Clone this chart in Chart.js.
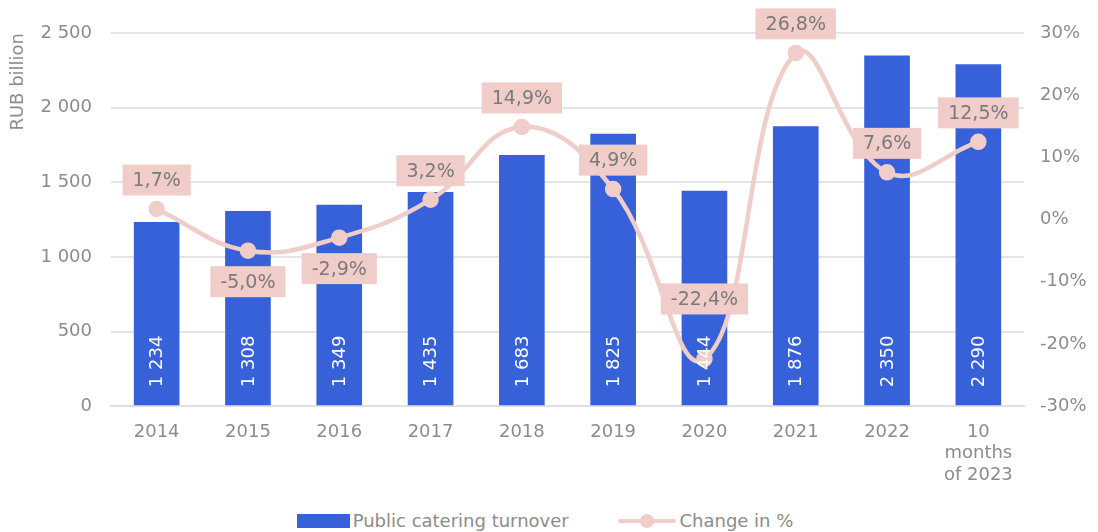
<!DOCTYPE html>
<html lang="en">
<head>
  <meta charset="UTF-8">
  <title>Public catering turnover</title>
  <script src="https://cdn.jsdelivr.net/npm/chart.js"></script>
  <style>
    body { margin: 0; background: #fff; font-family: "DejaVu Sans", sans-serif; }
    #wrap { position: relative; width: 1098px; height: 532px; overflow: hidden; }
    #chartBox { position: absolute; left: 0; top: 0; width: 1098px; height: 493px; }
    #legend { position: absolute; top: 510px; left: -4px; width: 1098px; text-align: center; font-size: 18px; color: #8c8c8c; white-space: nowrap; }
    .item { display: inline-flex; align-items: center; margin: 0 22px; }
    .barSw { width: 53px; height: 14px; background: #3761d9; margin-right: 3px; }
    .lineSw { position: relative; width: 58px; height: 14px; margin-right: 3px; }
    .lineSw::before { content: ""; position: absolute; left: 0; right: 0; top: 5px; height: 4px; background: #f0cdc8; border-radius: 2px; }
    .lineSw::after { content: ""; position: absolute; left: 22px; top: 0; width: 14px; height: 14px; background: #f0cdc8; border-radius: 50%; }
  </style>
</head>
<body>
  <div id="wrap">
    <div id="chartBox"><canvas id="chart"></canvas></div>
    <div id="legend">
      <span class="item"><span class="barSw"></span>Public catering turnover</span>
      <span class="item"><span class="lineSw"></span>Change in %</span>
    </div>
  </div>

  <script>
    const years = ['2014', '2015', '2016', '2017', '2018', '2019', '2020', '2021', '2022', ['10', 'months', 'of 2023']];
    const turnover = [1234, 1308, 1349, 1435, 1683, 1825, 1444, 1876, 2350, 2290];
    const changePct = [1.7, -5.0, -2.9, 3.2, 14.9, 4.9, -22.4, 26.8, 7.6, 12.5];

    const BAR = '#3761d9';
    const PINK = '#f0cdc8';
    const GREY = '#8c8c8c';
    const FONT = '"DejaVu Sans", sans-serif';

    function spaced(n) {
      return String(Math.round(n)).replace(/\B(?=(\d{3})+(?!\d))/g, ' ');
    }
    function pct(v) {
      return v.toFixed(1).replace('.', ',') + '%';
    }

    // label offsets from the point (px), negative = above
    const labelShift = { 1: 31, 2: 31, 6: -60 };

    const labelsPlugin = {
      id: 'valueLabels',
      afterDatasetsDraw(chart) {
        const c = chart.ctx;
        // bar values, rotated, inside bars
        const bars = chart.getDatasetMeta(0).data;
        c.save();
        c.font = '18px ' + FONT;
        c.fillStyle = '#ffffff';
        c.textBaseline = 'middle';
        c.textAlign = 'left';
        bars.forEach((b, i) => {
          c.save();
          c.translate(b.x, b.base - 18);
          c.rotate(-Math.PI / 2);
          c.fillText(spaced(turnover[i]), 0, 1);
          c.restore();
        });
        c.restore();

        // percentage labels with pink boxes
        const pts = chart.getDatasetMeta(1).data;
        c.save();
        c.font = '19px ' + FONT;
        c.textAlign = 'center';
        c.textBaseline = 'middle';
        pts.forEach((p, i) => {
          const txt = pct(changePct[i]);
          const w = c.measureText(txt).width + 20;
          const h = 31;
          const dy = labelShift[i] !== undefined ? labelShift[i] : -29;
          const cy = p.y + dy;
          c.fillStyle = PINK;
          c.fillRect(p.x - w / 2, cy - h / 2, w, h);
          c.fillStyle = '#7a7a7a';
          c.fillText(txt, p.x, cy + 1);
        });
        c.restore();
      }
    };

    new Chart(document.getElementById('chart'), {
      data: {
        labels: years,
        datasets: [
          {
            type: 'bar',
            label: 'Public catering turnover',
            data: turnover,
            backgroundColor: BAR,
            yAxisID: 'y',
            categoryPercentage: 1,
            barPercentage: 0.5,
            order: 2
          },
          {
            type: 'line',
            label: 'Change in %',
            data: changePct,
            borderColor: PINK,
            backgroundColor: PINK,
            borderWidth: 4.5,
            pointRadius: 6,
            pointHoverRadius: 6,
            tension: 0.42,
            yAxisID: 'y1',
            order: 1
          }
        ]
      },
      options: {
        responsive: true,
        maintainAspectRatio: false,
        animation: false,
        layout: { padding: { left: 8, right: 0, top: 33, bottom: 0 } },
        plugins: {
          legend: { display: false },
          tooltip: { enabled: false }
        },
        scales: {
          x: {
            grid: { display: false },
            border: { color: '#e0e0e0', width: 2 },
            ticks: { color: GREY, font: { family: FONT, size: 18 }, padding: 7, maxRotation: 0 }
          },
          y: {
            position: 'left',
            min: 0,
            max: 2500,
            afterFit: s => { s.width = 103; },
            ticks: {
              stepSize: 500,
              color: GREY,
              font: { family: FONT, size: 18 },
              padding: 19,
              callback: v => spaced(v)
            },
            grid: { color: '#e4e4e4', lineWidth: 2, drawTicks: false },
            border: { display: false },
            title: {
              display: true,
              text: 'RUB billion',
              align: 'end',
              color: GREY,
              font: { family: FONT, size: 18 },
              padding: { top: 0, bottom: 0 }
            }
          },
          y1: {
            position: 'right',
            min: -30,
            max: 30,
            afterFit: s => { s.width = 74; },
            ticks: {
              stepSize: 10,
              color: GREY,
              font: { family: FONT, size: 18 },
              padding: 16,
              callback: v => v + '%'
            },
            grid: { display: false, drawTicks: false },
            border: { display: false }
          }
        }
      },
      plugins: [labelsPlugin]
    });
  </script>
</body>
</html>
